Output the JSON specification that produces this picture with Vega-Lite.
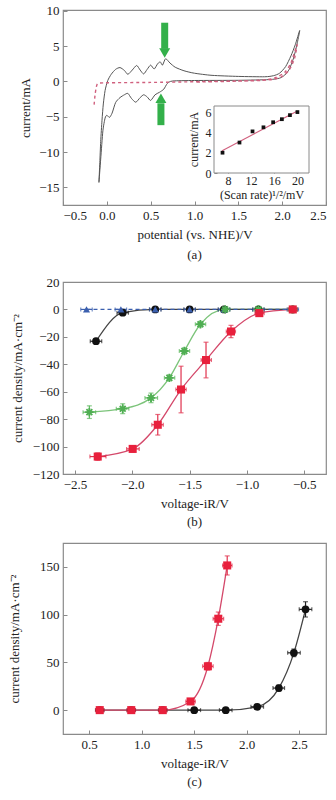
{
  "$schema": "https://vega.github.io/schema/vega-lite/v6.json",
  "padding": {"left": 7, "top": 4, "right": 0, "bottom": 0},
  "background": "white",
  "spacing": 12,
  "resolve": {"scale": {"shape": "independent", "color": "independent", "fill": "independent", "stroke": "independent", "size": "independent"}},
  "datasets": {
    "cvSolid": [
      {"k":1,"v":-0.09,"i":-14.3},{"k":2,"v":-0.08,"i":-11.5},{"k":3,"v":-0.07,"i":-8.5},{"k":4,"v":-0.055,"i":-5.5},
      {"k":5,"v":-0.04,"i":-3.2},{"k":6,"v":-0.02,"i":-1.3},{"k":7,"v":0.01,"i":0.1},{"k":8,"v":0.05,"i":1.0},
      {"k":9,"v":0.1,"i":1.7},{"k":10,"v":0.15,"i":1.95},{"k":11,"v":0.2,"i":1.55},{"k":12,"v":0.24,"i":1.0},
      {"k":13,"v":0.29,"i":1.6},{"k":14,"v":0.34,"i":2.25},{"k":15,"v":0.38,"i":1.6},{"k":16,"v":0.42,"i":1.05},
      {"k":17,"v":0.46,"i":1.7},{"k":18,"v":0.5,"i":2.3},{"k":19,"v":0.54,"i":1.75},{"k":20,"v":0.58,"i":2.5},
      {"k":21,"v":0.61,"i":2.75},{"k":22,"v":0.635,"i":2.3},{"k":23,"v":0.67,"i":3.2},{"k":24,"v":0.72,"i":2.6},
      {"k":25,"v":0.78,"i":2.0},{"k":26,"v":0.88,"i":1.5},{"k":27,"v":1.0,"i":1.15},{"k":28,"v":1.2,"i":0.85},
      {"k":29,"v":1.5,"i":0.7},{"k":30,"v":1.8,"i":0.65},{"k":31,"v":1.9,"i":0.8},{"k":32,"v":1.97,"i":1.15},
      {"k":33,"v":2.04,"i":2.1},{"k":34,"v":2.1,"i":3.6},{"k":35,"v":2.15,"i":5.2},{"k":36,"v":2.2,"i":7.2},
      {"k":37,"v":2.17,"i":5.3},{"k":38,"v":2.13,"i":3.3},{"k":39,"v":2.08,"i":1.7},{"k":40,"v":2.03,"i":0.9},
      {"k":41,"v":1.97,"i":0.45},{"k":42,"v":1.85,"i":0.25},{"k":43,"v":1.5,"i":0.15},{"k":44,"v":1.0,"i":0.12},
      {"k":45,"v":0.75,"i":0.05},{"k":46,"v":0.69,"i":-0.3},{"k":47,"v":0.65,"i":-1.1},{"k":48,"v":0.6,"i":-1.55},
      {"k":49,"v":0.55,"i":-1.9},{"k":50,"v":0.5,"i":-2.7},{"k":51,"v":0.46,"i":-2.2},{"k":52,"v":0.42,"i":-1.9},
      {"k":53,"v":0.38,"i":-2.3},{"k":54,"v":0.33,"i":-2.95},{"k":55,"v":0.28,"i":-2.4},{"k":56,"v":0.24,"i":-1.7},
      {"k":57,"v":0.2,"i":-1.9},{"k":58,"v":0.15,"i":-2.3},{"k":59,"v":0.1,"i":-3.0},{"k":60,"v":0.06,"i":-4.5},
      {"k":61,"v":0.03,"i":-5.1},{"k":62,"v":0.0,"i":-4.8},{"k":63,"v":-0.02,"i":-5.2},{"k":64,"v":-0.045,"i":-7.0},
      {"k":65,"v":-0.07,"i":-11},{"k":66,"v":-0.09,"i":-14.3}
    ],
    "cvDash": [
      {"k":1,"v":-0.145,"i":-3.3},{"k":2,"v":-0.135,"i":-2.0},{"k":3,"v":-0.12,"i":-0.8},{"k":4,"v":-0.1,"i":-0.3},
      {"k":5,"v":0.0,"i":-0.2},{"k":6,"v":0.5,"i":-0.15},{"k":7,"v":1.0,"i":-0.05},{"k":8,"v":1.5,"i":0.05},
      {"k":9,"v":1.8,"i":0.2},{"k":10,"v":1.93,"i":0.55},{"k":11,"v":2.03,"i":1.3},{"k":12,"v":2.1,"i":2.6},
      {"k":13,"v":2.17,"i":5.2},{"k":14,"v":2.14,"i":3.2},{"k":15,"v":2.08,"i":1.6},{"k":16,"v":2.0,"i":0.7},
      {"k":17,"v":1.9,"i":0.3},{"k":18,"v":1.7,"i":0.1},{"k":19,"v":1.0,"i":-0.1}
    ],
    "arrows": [
      {"dir":"down","v":0.66,"a":8.3,"b":4.6,"h":4.0},
      {"dir":"up","v":0.617,"a":-6.2,"b":-3.1,"h":-2.4}
    ],
    "inset": [
      {"r":7.07,"c":2.0},{"r":10,"c":3.0},{"r":12.25,"c":4.1},{"r":14.14,"c":4.5},
      {"r":15.81,"c":5.0},{"r":17.32,"c":5.3},{"r":18.71,"c":5.7},{"r":20,"c":6.0}
    ],
    "fit": [{"r":7,"c":2.2},{"r":20,"c":6.1}],
    "b": [
      {"s":"black","x":-2.317,"y":-23.2,"xlo":-2.367,"xhi":-2.267,"ylo":-24.5,"yhi":-22},
      {"s":"black","x":-2.084,"y":-2.4,"xlo":-2.134,"xhi":-2.034},
      {"s":"black","x":-1.8,"y":0,"xlo":-1.85,"xhi":-1.75},
      {"s":"black","x":-1.5,"y":0,"xlo":-1.55,"xhi":-1.45},
      {"s":"black","x":-1.2,"y":0,"xlo":-1.25,"xhi":-1.15},
      {"s":"black","x":-0.9,"y":0,"xlo":-0.95,"xhi":-0.85},
      {"s":"black","x":-0.6,"y":0,"xlo":-0.64,"xhi":-0.56},
      {"s":"blue","x":-2.4,"y":0,"xlo":-2.45,"xhi":-2.35},
      {"s":"blue","x":-2.1,"y":0,"xlo":-2.15,"xhi":-2.05},
      {"s":"blue","x":-1.8,"y":0,"xlo":-1.85,"xhi":-1.75},
      {"s":"blue","x":-1.5,"y":0,"xlo":-1.55,"xhi":-1.45},
      {"s":"blue","x":-1.2,"y":0,"xlo":-1.25,"xhi":-1.15},
      {"s":"blue","x":-0.9,"y":0,"xlo":-0.95,"xhi":-0.85},
      {"s":"blue","x":-0.6,"y":0,"xlo":-0.65,"xhi":-0.55},
      {"s":"green","x":-2.375,"y":-74.9,"xlo":-2.43,"xhi":-2.32,"ylo":-79.5,"yhi":-70.3},
      {"s":"green","x":-2.084,"y":-72.4,"xlo":-2.14,"xhi":-2.03,"ylo":-76,"yhi":-68.8},
      {"s":"green","x":-1.837,"y":-64.5,"xlo":-1.89,"xhi":-1.78,"ylo":-68,"yhi":-61},
      {"s":"green","x":-1.677,"y":-49.9,"xlo":-1.72,"xhi":-1.63,"ylo":-52,"yhi":-47.8},
      {"s":"green","x":-1.546,"y":-30.3,"xlo":-1.59,"xhi":-1.5,"ylo":-32.5,"yhi":-28.1},
      {"s":"green","x":-1.406,"y":-10.8,"xlo":-1.45,"xhi":-1.36,"ylo":-12.8,"yhi":-8.8},
      {"s":"green","x":-1.19,"y":0,"xlo":-1.23,"xhi":-1.15},
      {"s":"green","x":-0.9,"y":0,"xlo":-0.94,"xhi":-0.86},
      {"s":"green","x":-0.6,"y":0,"xlo":-0.64,"xhi":-0.56},
      {"s":"red","x":-2.302,"y":-107.3,"xlo":-2.37,"xhi":-2.23,"ylo":-110,"yhi":-104.6},
      {"s":"red","x":-1.997,"y":-101.7,"xlo":-2.05,"xhi":-1.94,"ylo":-104,"yhi":-99.4},
      {"s":"red","x":-1.778,"y":-84.1,"xlo":-1.83,"xhi":-1.73,"ylo":-91.6,"yhi":-76.6},
      {"s":"red","x":-1.575,"y":-58.4,"xlo":-1.62,"xhi":-1.53,"ylo":-75.4,"yhi":-41.4},
      {"s":"red","x":-1.357,"y":-36.9,"xlo":-1.4,"xhi":-1.31,"ylo":-49.9,"yhi":-23.9},
      {"s":"red","x":-1.139,"y":-16.1,"xlo":-1.18,"xhi":-1.1,"ylo":-20.6,"yhi":-11.6},
      {"s":"red","x":-0.892,"y":-2.7,"xlo":-0.93,"xhi":-0.85,"ylo":-4.2,"yhi":-1.2},
      {"s":"red","x":-0.6,"y":0,"xlo":-0.64,"xhi":-0.56}
    ],
    "c": [
      {"s":"black","x":0.6,"y":0,"xlo":0.56,"xhi":0.64},
      {"s":"black","x":0.9,"y":0,"xlo":0.86,"xhi":0.94},
      {"s":"black","x":1.2,"y":0,"xlo":1.16,"xhi":1.24},
      {"s":"black","x":1.5,"y":0,"xlo":1.44,"xhi":1.56},
      {"s":"black","x":1.8,"y":0,"xlo":1.74,"xhi":1.86},
      {"s":"black","x":2.1,"y":3.5,"xlo":2.04,"xhi":2.16},
      {"s":"black","x":2.306,"y":23.1,"xlo":2.25,"xhi":2.36,"ylo":20,"yhi":26.2},
      {"s":"black","x":2.449,"y":60,"xlo":2.39,"xhi":2.51,"ylo":56,"yhi":64},
      {"s":"black","x":2.56,"y":105.5,"xlo":2.5,"xhi":2.62,"ylo":97.5,"yhi":113.5},
      {"s":"red","x":0.6,"y":0,"xlo":0.56,"xhi":0.64},
      {"s":"red","x":0.9,"y":0,"xlo":0.86,"xhi":0.94},
      {"s":"red","x":1.2,"y":0,"xlo":1.16,"xhi":1.24},
      {"s":"red","x":1.465,"y":9.1,"xlo":1.42,"xhi":1.51},
      {"s":"red","x":1.63,"y":45.9,"xlo":1.58,"xhi":1.68,"ylo":41.9,"yhi":49.9},
      {"s":"red","x":1.729,"y":95.7,"xlo":1.68,"xhi":1.78,"ylo":88.7,"yhi":102.7},
      {"s":"red","x":1.814,"y":151.5,"xlo":1.77,"xhi":1.86,"ylo":141.5,"yhi":161.5}
    ]
  },
  "vconcat": [
    {
      "width": 263, "height": 195,
      "title": {"text": "(a)", "orient": "bottom", "offset": 8},
      "layer": [
        {
          "data": {"name": "cvSolid"},
          "mark": {"type": "line", "color": "#555555", "strokeWidth": 1, "interpolate": "cardinal", "tension": 0.3},
          "encoding": {
            "x": {"field": "v", "type": "quantitative", "scale": {"domain": [-0.5, 2.5], "nice": false, "zero": false},
                  "axis": {"values": [-0.5, 0, 0.5, 1, 1.5, 2, 2.5], "format": ".1f", "title": "potential (vs. NHE)/V", "titlePadding": 6}},
            "y": {"field": "i", "type": "quantitative", "scale": {"domain": [-17.5, 10.1], "nice": false, "zero": false},
                  "axis": {"values": [-15, -10, -5, 0, 5, 10], "format": "d", "title": "current/mA", "titleX": -31, "labelOverlap": false}},
            "order": {"field": "k"}
          }
        },
        {
          "data": {"name": "cvDash"},
          "mark": {"type": "line", "color": "#d0607e", "strokeWidth": 1.4, "strokeDash": [3, 3], "interpolate": "cardinal", "tension": 0.3},
          "encoding": {
            "x": {"field": "v", "type": "quantitative", "scale": {"domain": [-0.5, 2.5], "nice": false, "zero": false}, "axis": null},
            "y": {"field": "i", "type": "quantitative", "scale": {"domain": [-17.5, 10.1], "nice": false, "zero": false}, "axis": null},
            "order": {"field": "k"}
          }
        },
        {
          "data": {"name": "arrows"},
          "mark": {"type": "rule", "color": "#33b04a", "strokeWidth": 7},
          "encoding": {
            "x": {"field": "v", "type": "quantitative", "scale": {"domain": [-0.5, 2.5], "nice": false, "zero": false}, "axis": null},
            "y": {"field": "a", "type": "quantitative", "scale": {"domain": [-17.5, 10.1], "nice": false, "zero": false}, "axis": null},
            "y2": {"field": "b"}
          }
        },
        {
          "data": {"name": "arrows"},
          "mark": {"type": "point", "filled": true, "color": "#33b04a", "size": 120, "opacity": 1},
          "encoding": {
            "x": {"field": "v", "type": "quantitative", "scale": {"domain": [-0.5, 2.5], "nice": false, "zero": false}, "axis": null},
            "y": {"field": "h", "type": "quantitative", "scale": {"domain": [-17.5, 10.1], "nice": false, "zero": false}, "axis": null},
            "shape": {"field": "dir", "type": "nominal", "scale": {"domain": ["down", "up"], "range": ["triangle-down", "triangle-up"]}, "legend": null}
          }
        },
        {
          "layer": [
            {
              "data": {"values": [{}]},
              "mark": {"type": "rect", "fill": "white", "stroke": "#8a8a8a", "strokeWidth": 1},
              "encoding": {
                "x": {"datum": 5.6, "type": "quantitative",
                      "scale": {"domain": [5.6, 22], "range": [151, 246], "nice": false, "zero": false},
                      "axis": {"orient": "bottom", "offset": -32, "values": [8, 12, 16, 20], "title": "(Scan rate)¹/²/mV", "labelFontSize": 12, "titleFontSize": 12, "tickSize": -3, "labelPadding": 5, "titlePadding": 3, "labelOverlap": false}},
                "x2": {"datum": 22},
                "y": {"datum": 0, "type": "quantitative",
                      "scale": {"domain": [0, 6.6], "range": [163, 96], "nice": false, "zero": false},
                      "axis": {"orient": "right", "offset": -112, "values": [0, 2, 4, 6], "title": "current/mA", "labelFontSize": 12, "titleFontSize": 12, "tickSize": 3, "labelPadding": -6, "labelAlign": "right", "titleX": -14, "titleY": 129, "titleAngle": -90, "titleBaseline": "bottom", "titleAlign": "center", "labelOverlap": false}},
                "y2": {"datum": 6.6}
              }
            },
            {
              "data": {"name": "fit"},
              "mark": {"type": "line", "color": "#d0607e", "strokeWidth": 1.2},
              "encoding": {
                "x": {"field": "r", "type": "quantitative"},
                "y": {"field": "c", "type": "quantitative"}
              }
            },
            {
              "data": {"name": "inset"},
              "mark": {"type": "point", "filled": true, "color": "#111111", "size": 14, "shape": "square", "opacity": 1},
              "encoding": {
                "x": {"field": "r", "type": "quantitative"},
                "y": {"field": "c", "type": "quantitative"}
              }
            }
          ]
        }
      ],
      "resolve": {"scale": {"x": "independent", "y": "independent"}, "axis": {"x": "independent", "y": "independent"}}
    },
    {
      "width": 263, "height": 192,
      "title": {"text": "(b)", "orient": "bottom", "offset": 6},
      "data": {"name": "b"},
      "encoding": {
        "x": {"field": "x", "type": "quantitative", "scale": {"domain": [-2.605, -0.31], "nice": false, "zero": false},
              "axis": {"values": [-2.5, -2, -1.5, -1, -0.5], "format": ".1f", "title": "voltage-iR/V", "titlePadding": 6}},
        "y": {"field": "y", "type": "quantitative", "scale": {"domain": [-120, 20], "nice": false, "zero": false},
              "axis": {"values": [-120, -100, -80, -60, -40, -20, 0, 20], "title": "current density/mA·cm⁻²", "titleX": -39}}
      },
      "layer": [
        {
          "transform": [{"filter": "datum.s == 'red'"}],
          "mark": {"type": "line", "color": "#d4486a", "strokeWidth": 1.3, "interpolate": "monotone"}
        },
        {
          "transform": [{"filter": "datum.s == 'green'"}],
          "mark": {"type": "line", "color": "#7cc47a", "strokeWidth": 1.3, "interpolate": "monotone"}
        },
        {
          "transform": [{"filter": "datum.s == 'black'"}],
          "mark": {"type": "line", "color": "#444444", "strokeWidth": 1.3, "interpolate": "monotone"}
        },
        {
          "transform": [{"filter": "datum.s == 'blue'"}],
          "mark": {"type": "line", "color": "#3b5fae", "strokeWidth": 1.2, "strokeDash": [4, 3]}
        },
        {
          "mark": {"type": "errorbar", "ticks": {"size": 4}, "thickness": 1.2},
          "encoding": {
            "x": {"field": "xlo", "type": "quantitative"},
            "x2": {"field": "xhi"},
            "y": {"field": "y", "type": "quantitative"},
            "color": {"field": "s", "type": "nominal", "scale": {"domain": ["black", "blue", "green", "red"], "range": ["#222222", "#3b5fae", "#5bb85c", "#e0304c"]}, "legend": null}
          }
        },
        {
          "transform": [{"filter": "isValid(datum.ylo)"}],
          "mark": {"type": "errorbar", "ticks": {"size": 5}, "thickness": 1.2},
          "encoding": {
            "y": {"field": "ylo", "type": "quantitative"},
            "y2": {"field": "yhi"},
            "x": {"field": "x", "type": "quantitative"},
            "color": {"field": "s", "type": "nominal", "scale": {"domain": ["black", "blue", "green", "red"], "range": ["#222222", "#3b5fae", "#5bb85c", "#e0304c"]}, "legend": null}
          }
        },
        {
          "transform": [{"filter": "datum.s == 'black'"}],
          "mark": {"type": "point", "filled": true, "opacity": 1, "shape": "circle", "color": "#111111", "size": 60}
        },
        {
          "transform": [{"filter": "datum.s == 'blue'"}],
          "mark": {"type": "point", "filled": true, "opacity": 1, "shape": "triangle-up", "color": "#3b5fae", "size": 50}
        },
        {
          "transform": [{"filter": "datum.s == 'green'"}],
          "mark": {"type": "point", "filled": false, "opacity": 1, "strokeWidth": 1.8, "shape": "M-1,0L1,0M0,-1L0,1M-0.7,-0.7L0.7,0.7M-0.7,0.7L0.7,-0.7", "color": "#4fae52", "size": 70}
        },
        {
          "transform": [{"filter": "datum.s == 'red'"}],
          "mark": {"type": "point", "filled": true, "opacity": 1, "shape": "square", "color": "#e8203c", "size": 65}
        }
      ]
    },
    {
      "width": 263, "height": 191,
      "title": {"text": "(c)", "orient": "bottom", "offset": 6},
      "data": {"name": "c"},
      "encoding": {
        "x": {"field": "x", "type": "quantitative", "scale": {"domain": [0.25, 2.755], "nice": false, "zero": false},
              "axis": {"values": [0.5, 1, 1.5, 2, 2.5], "format": ".1f", "title": "voltage-iR/V", "titlePadding": 6}},
        "y": {"field": "y", "type": "quantitative", "scale": {"domain": [-25, 175], "nice": false, "zero": false},
              "axis": {"values": [0, 50, 100, 150], "title": "current density/mA·cm⁻²", "titleX": -42}}
      },
      "layer": [
        {
          "transform": [{"filter": "datum.s == 'black'"}],
          "mark": {"type": "line", "color": "#444444", "strokeWidth": 1.3, "interpolate": "monotone"}
        },
        {
          "transform": [{"filter": "datum.s == 'red'"}],
          "mark": {"type": "line", "color": "#d4486a", "strokeWidth": 1.3, "interpolate": "monotone"}
        },
        {
          "mark": {"type": "errorbar", "ticks": {"size": 4}, "thickness": 1.2},
          "encoding": {
            "x": {"field": "xlo", "type": "quantitative"},
            "x2": {"field": "xhi"},
            "y": {"field": "y", "type": "quantitative"},
            "color": {"field": "s", "type": "nominal", "scale": {"domain": ["black", "red"], "range": ["#222222", "#e0304c"]}, "legend": null}
          }
        },
        {
          "transform": [{"filter": "isValid(datum.ylo)"}],
          "mark": {"type": "errorbar", "ticks": {"size": 5}, "thickness": 1.2},
          "encoding": {
            "y": {"field": "ylo", "type": "quantitative"},
            "y2": {"field": "yhi"},
            "x": {"field": "x", "type": "quantitative"},
            "color": {"field": "s", "type": "nominal", "scale": {"domain": ["black", "red"], "range": ["#222222", "#e0304c"]}, "legend": null}
          }
        },
        {
          "transform": [{"filter": "datum.s == 'black'"}],
          "mark": {"type": "point", "filled": true, "opacity": 1, "shape": "circle", "color": "#111111", "size": 60}
        },
        {
          "transform": [{"filter": "datum.s == 'red'"}],
          "mark": {"type": "point", "filled": true, "opacity": 1, "shape": "square", "color": "#e8203c", "size": 65}
        }
      ]
    }
  ],
  "config": {
    "font": "Liberation Serif",
    "view": {"stroke": "#8a8a8a", "strokeWidth": 1.2},
    "axis": {"grid": false, "domain": false, "tickColor": "#8a8a8a", "tickSize": -4, "labelPadding": 8, "labelOverlap": false,
             "labelFont": "Liberation Serif", "labelFontSize": 13, "labelColor": "#222222",
             "titleFont": "Liberation Serif", "titleFontSize": 13, "titleFontWeight": "normal", "titleColor": "#222222"},
    "title": {"font": "Liberation Serif", "fontSize": 13, "fontWeight": "normal", "color": "#222222"}
  }
}
